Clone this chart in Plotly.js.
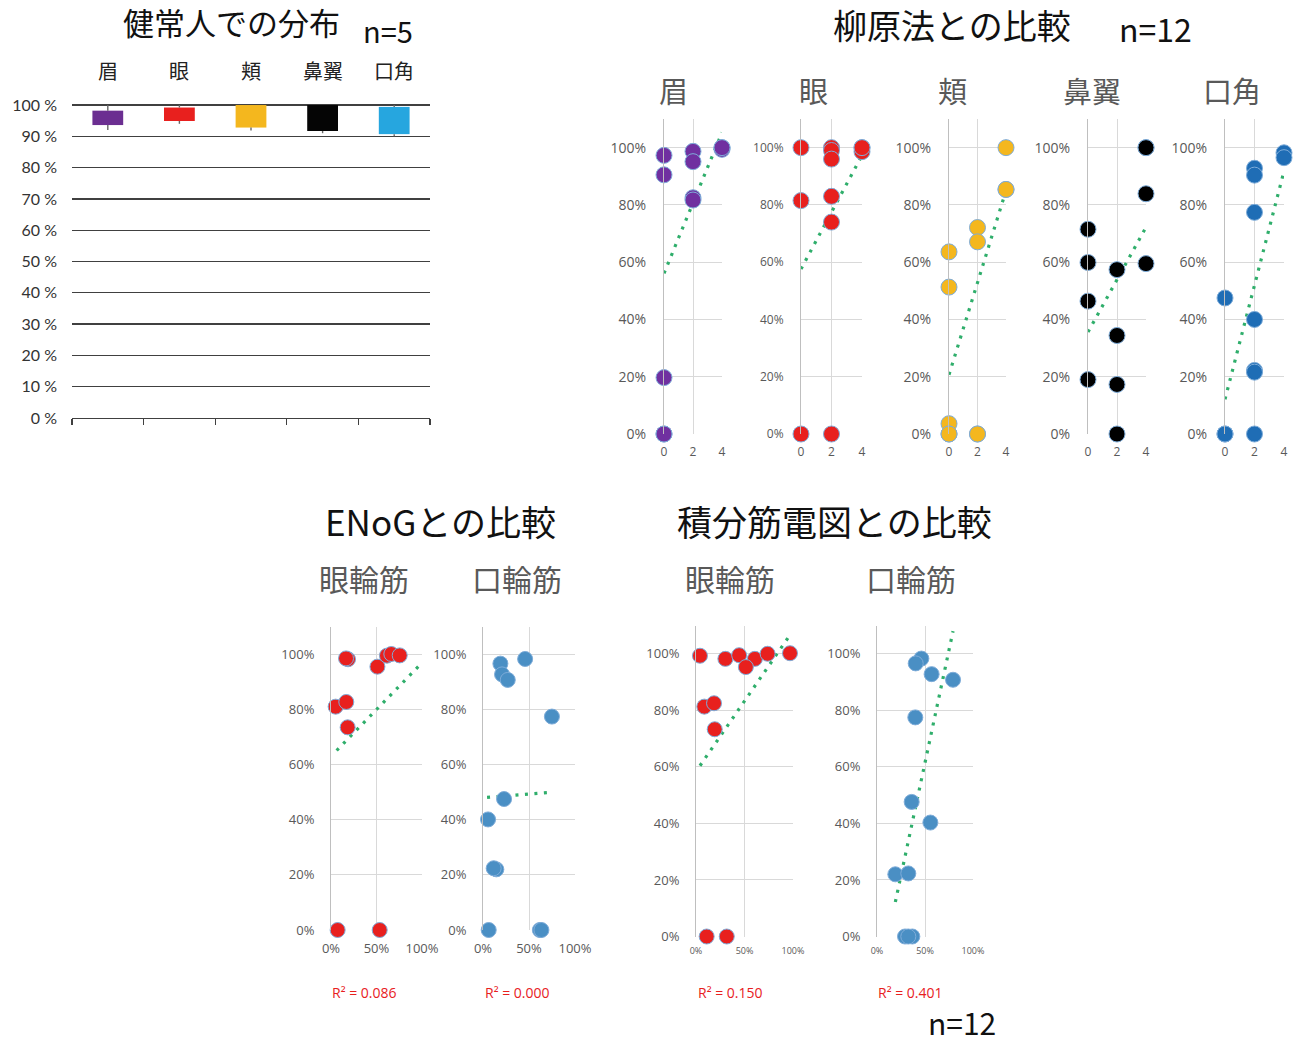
<!DOCTYPE html>
<html><head><meta charset="utf-8">
<script src="https://cdn.plot.ly/plotly-3.0.1.min.js"></script>
<style>html,body{margin:0;padding:0;background:#fff}#chart{width:1295px;height:1043px}</style>
</head><body><div id="chart"></div>
<script>
// ---------- DATA ----------
// Healthy subjects distribution (n=5), percent
const barCats = ['眉','眼','頬','鼻翼','口角'];
const barLow  = [92.0, 94.0, 91.9, 91.0, 90.0];
const barQ1   = [93.6, 94.9, 92.8, 91.7, 90.7];
const barQ3   = [98.2, 99.2, 100.0, 100.0, 99.4];
const barHigh = [100, 100, 100, 100, 100];
const barColors = ['#6B2E91','#E8201E','#F4B71E','#050505','#26A6DF'];

// Yanagihara comparison (x: score 0/2/4, y: percent)
const yanaLabels = ['眉','眼','頬','鼻翼','口角'];
const browX  = [0,0,0,0,0,2,2,2,2,4,4,4];
const browY  = [97.3,90.5,19.7,0,0,98.7,95.1,82.5,81.7,100,99.4,100];
const eyeX   = [0,0,0,2,2,2,2,2,2,4,4,4];
const eyeY   = [100,81.5,0,100,99,96,83,74,0,100,98.6,100];
const cheekX = [0,0,0,0,0,2,2,2,2,4,4,4];
const cheekY = [63.6,51.3,3.6,0,0,72.1,67.1,0,0,100,85.4,85.4];
const noseX  = [0,0,0,0,2,2,2,2,4,4,4,4];
const noseY  = [71.5,59.9,46.4,19.0,57.4,34.4,17.3,0,100,83.9,59.5,100];
const mouthX = [0,0,0,2,2,2,2,2,2,2,4,4];
const mouthY = [47.5,0,0,92.8,90.4,77.4,40.0,22.2,21.6,0,98.2,96.5];
const yanaColors = ['#7030A0','#E8201E','#F4B71E','#000000','#1F6DB5'];
const yanaTrendX = [[0,4],[0,4],[0,4],[0,4],[0,4]];
const yanaTrendY = [[56.1,105.3],[57.6,97.3],[20.7,85.0],[35.6,72.2],[12.1,91.8]];

// ENoG comparison (x: ENoG %, y: percent)
const enogEyeX   = [18.7,16.5,51,61.5,66.3,75.5,5.1,16.8,18.3,7.3,53.5];
const enogEyeY   = [98.2,98.5,95.5,99.5,100.1,99.6,81,82.7,73.5,0,0];
const enogMouthX = [18.9,20.7,26.9,45.8,74.9,22.9,5.5,14.5,11.6,6.2,61.8,63.5];
const enogMouthY = [96.6,92.7,90.7,98.3,77.4,47.5,40.1,22.0,22.4,0,0,0];
// Integrated EMG comparison
const emgEyeX   = [4.1,30.3,44.5,60.7,51.4,73.8,96.9,8.6,18.6,19.3,11,31.7];
const emgEyeY   = [99.3,98.2,99.5,98.2,95.3,100,100.2,81.3,82.5,73.3,0,0];
const emgMouthX = [46.2,40.3,56.9,79.2,39.9,36.1,55.6,19.1,32.6,29.2,36.8,32.6];
const emgMouthY = [98.3,96.6,92.8,90.8,77.5,47.6,40.3,22,22.3,0,0,0];
const lowerTrendX = [[6.2,97],[4.4,69.8],[4.1,97.6],[19.1,79.2]];
const lowerTrendY = [[65.1,95.9],[48.1,49.8],[60.4,107],[12.2,108]];
const lowerLabels = ['眼輪筋','口輪筋','眼輪筋','口輪筋'];
const r2Labels = ['R² = 0.086','R² = 0.000','R² = 0.150','R² = 0.401'];
const lowerColors = ['#E8201E','#4A8FC4','#E8201E','#4A8FC4'];

// ---------- LAYOUT HELPERS ----------
const W = 1295, H = 1043;
const fx = v => v / W;
const fy = v => 1 - v / H;
const CJK = '"Noto Sans CJK JP", "Noto Sans", sans-serif';
const TICKF = '"Open Sans", "Noto Sans", sans-serif';
const GRID = '#D9D9D9', AXL = '#BFBFBF', TXT = '#595959';
const TREND = '#2FAE6B';

const traces = [];
const layout = {
  width: W, height: H, margin: {l:0, r:0, t:0, b:0},
  paper_bgcolor: '#fff', plot_bgcolor: 'rgba(0,0,0,0)',
  showlegend: false, annotations: [], font: {family: TICKF}
};

// ---------- Top-left: healthy distribution ----------
traces.push({
  type: 'bar', x: barCats, y: barQ3.map((v,i)=>v - barQ1[i]), base: barQ1,
  width: 0.43, marker: {color: barColors, line: {width: 0}},
  xaxis: 'x', yaxis: 'y', hoverinfo: 'skip'
});
traces.push({
  type: 'scatter', mode: 'markers', x: barCats, y: barQ3,
  marker: {size: 1, color: 'rgba(0,0,0,0)'},
  error_y: {type: 'data', array: barHigh.map((v,i)=>v - barQ3[i]), arrayminus: barQ3.map(()=>0),
            width: 0, thickness: 1.4, color: '#666'},
  xaxis: 'x', yaxis: 'y', hoverinfo: 'skip', cliponaxis: false
});
traces.push({
  type: 'scatter', mode: 'markers', x: barCats, y: barQ1,
  marker: {size: 1, color: 'rgba(0,0,0,0)'},
  error_y: {type: 'data', array: barQ1.map(()=>0), arrayminus: barQ1.map((v,i)=>v - barLow[i]),
            width: 0, thickness: 1.4, color: '#666'},
  xaxis: 'x', yaxis: 'y', hoverinfo: 'skip', cliponaxis: false
});
layout.xaxis = {
  domain: [fx(72), fx(430)], anchor: 'y', type: 'category', range: [-0.5, 4.5],
  showticklabels: false, tickson: 'boundaries', ticks: 'outside', ticklen: 6,
  tickcolor: '#404040', tickwidth: 1.3, showline: true, linecolor: '#404040', linewidth: 1.3,
  showgrid: false, zeroline: false, fixedrange: true
};
layout.yaxis = {
  domain: [fy(418), fy(101.9)], anchor: 'x', range: [0, 101],
  tickmode: 'linear', tick0: 0, dtick: 10, ticksuffix: ' %',
  tickfont: {family: 'Lato, "DejaVu Sans", sans-serif', size: 16, color: '#333'},
  ticklabelstandoff: 14, showgrid: true, gridcolor: '#404040', gridwidth: 1.3,
  zeroline: false, showline: false, fixedrange: true
};
barCats.forEach(c => layout.annotations.push({
  text: c, x: c, xref: 'x', y: fy(70), yref: 'paper', showarrow: false,
  xanchor: 'center', yanchor: 'middle', font: {family: CJK, size: 20, color: '#222'}
}));

// ---------- Scatter panel builder ----------
let axN = 2;
function addPanel(xs, ys, color, tx, ty, xDom, yDom, opts) {
  const n = axN++;
  const xa = 'x' + n, ya = 'y' + n;
  traces.push({
    type: 'scatter', mode: 'lines', x: tx, y: ty, xaxis: xa, yaxis: ya,
    line: {color: TREND, width: 3.2, dash: '3px,6.5px'}, hoverinfo: 'skip', cliponaxis: false
  });
  traces.push({
    type: 'scatter', mode: 'markers', x: xs, y: ys, xaxis: xa, yaxis: ya,
    marker: {color: color, size: opts.msize, line: {color: '#7EACD9', width: 1}},
    hoverinfo: 'skip', cliponaxis: false
  });
  layout['xaxis' + n] = {
    domain: [fx(xDom[0]), fx(xDom[1])], anchor: ya, range: opts.xr,
    tickmode: 'linear', tick0: 0, dtick: opts.xd, ticksuffix: opts.xsuf || '',
    tickfont: {family: TICKF, size: opts.xfs, color: TXT}, ticklabelstandoff: opts.xso,
    showgrid: true, gridcolor: GRID, gridwidth: 1, zeroline: false, showline: false, ticks: '', fixedrange: true
  };
  layout['yaxis' + n] = {
    domain: [fy(yDom[0]), fy(yDom[1])], anchor: xa, range: [0, 110],
    tickmode: 'linear', tick0: 0, dtick: 20, ticksuffix: '%',
    tickfont: {family: TICKF, size: opts.yfs, color: TXT}, ticklabelstandoff: opts.yso,
    showgrid: true, gridcolor: GRID, gridwidth: 1, zeroline: false,
    showline: true, linecolor: AXL, linewidth: 1, ticks: '', fixedrange: true
  };
}

// ---------- Top-right: Yanagihara ----------
const yanaData = [[browX,browY],[eyeX,eyeY],[cheekX,cheekY],[noseX,noseY],[mouthX,mouthY]];
const yanaXDom = [[664,722],[801,862],[949,1006],[1088,1146],[1225,1284]];
const yanaYfs = [14,12,14,14,14];
const yanaTitleX = [673,813,952,1092,1232];
yanaData.forEach((d,i) => {
  addPanel(d[0], d[1], yanaColors[i], yanaTrendX[i], yanaTrendY[i], yanaXDom[i], [434,119],
    {msize: 16, xr: [0,4], xd: 2, xfs: 12, xso: 9, yfs: yanaYfs[i], yso: 14});
  layout.annotations.push({text: yanaLabels[i], x: fx(yanaTitleX[i]), y: fy(90), xref: 'paper', yref: 'paper',
    showarrow: false, xanchor: 'center', yanchor: 'middle', font: {family: CJK, size: 29, color: TXT}});
});

// ---------- Bottom: ENoG & integrated EMG ----------
const lowerData = [[enogEyeX,enogEyeY],[enogMouthX,enogMouthY],[emgEyeX,emgEyeY],[emgMouthX,emgMouthY]];
const lowerXDom = [[331,422],[483,575],[696,793],[877,973]];
const lowerYDom = [[930,626.7],[930,626.7],[936.5,625.5],[936.5,625.5]];
const lowerXfs = [13,13,9,9];
const lowerXso = [9,9,7,7];
const lowerTitleX = [364,517,730,911];
const r2X = [364,517,730,910];
lowerData.forEach((d,i) => {
  addPanel(d[0], d[1], lowerColors[i], lowerTrendX[i], lowerTrendY[i], lowerXDom[i], lowerYDom[i],
    {msize: 15, xr: [0,100], xd: 50, xsuf: '%', xfs: lowerXfs[i], xso: lowerXso[i], yfs: 13, yso: 13});
  layout.annotations.push({text: lowerLabels[i], x: fx(lowerTitleX[i]), y: fy(578), xref: 'paper', yref: 'paper',
    showarrow: false, xanchor: 'center', yanchor: 'middle', font: {family: CJK, size: 30, color: TXT}});
  layout.annotations.push({text: r2Labels[i], x: fx(r2X[i]), y: fy(992), xref: 'paper', yref: 'paper',
    showarrow: false, xanchor: 'center', yanchor: 'middle', font: {family: TICKF, size: 14, color: '#E8201E'}});
});

// ---------- Titles ----------
const titles = [
  ['健常人での分布', 231, 22, 31], ['n=5', 388, 30, 29],
  ['柳原法との比較', 952, 24, 34], ['n=12', 1155, 28, 32],
  ['ENoGとの比較', 440, 520, 35], ['積分筋電図との比較', 834, 520, 35],
  ['n=12', 962, 1022, 30]
];
titles.forEach(t => layout.annotations.push({
  text: t[0], x: fx(t[1]), y: fy(t[2]), xref: 'paper', yref: 'paper', showarrow: false,
  xanchor: 'center', yanchor: 'middle', font: {family: CJK, size: t[3], color: '#111'}
}));

Plotly.newPlot('chart', traces, layout, {staticPlot: true, displayModeBar: false});
</script></body></html>
